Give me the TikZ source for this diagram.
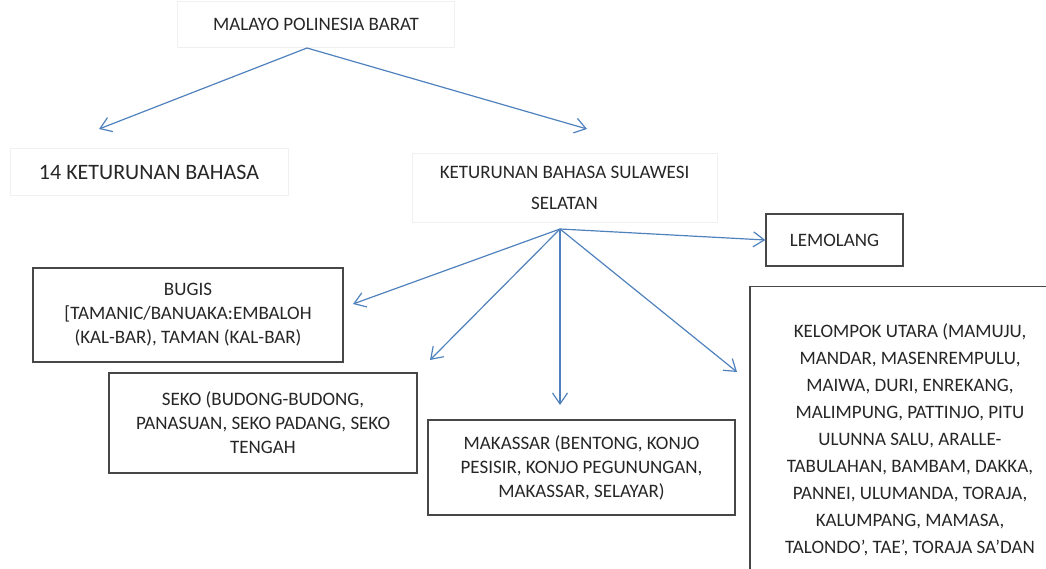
\documentclass[tikz,border=0pt]{standalone}
\usepackage{fontspec}
\setmainfont{Carlito}
\usetikzlibrary{arrows.meta}
\definecolor{linkblue}{HTML}{4F81BD}
\definecolor{framegray}{gray}{0.28}
\definecolor{faintgray}{gray}{0.94}

\begin{document}
\begin{tikzpicture}[x=1pt,y=-1pt,
  every node/.style={text=black!85,font=\fontsize{19}{24}\selectfont,align=center,inner sep=0pt},
  box/.style={draw=framegray,line width=1.3pt},
  faint/.style={draw=faintgray,line width=0.8pt},
  link/.style={-{Straight Barb[length=11pt,width=15pt]},draw=linkblue,line width=1.2pt}]
  \useasboundingbox (0,0) rectangle (1046,569);

  % 上位ノード
  \node[faint,minimum width=277pt,minimum height=46pt] (mpb) at (316,24) {MALAYO POLINESIA BARAT};
  \coordinate (mpbfoot) at (307,48);

  % 二つの子孫
  \node[faint,minimum width=278pt,minimum height=47pt] (kb14) at (149,172) {\fontsize{22}{26}\selectfont 14 KETURUNAN BAHASA};
  \node[faint,minimum width=305pt,minimum height=69pt] (ksul) at (564.5,187.5) {KETURUNAN BAHASA SULAWESI\\[7pt]SELATAN};
  \coordinate (tokb) at (99,129);
  \coordinate (toks) at (587,129);
  \coordinate (hub) at (560,229);

  % 下位の言語グループ
  \node[box,minimum width=137pt,minimum height=52pt] (lemo) at (834.5,240) {LEMOLANG};
  \node[box,minimum width=310pt,minimum height=94pt] (bugis) at (188,315) {BUGIS\\{}[TAMANIC/BANUAKA:EMBALOH\\(KAL-BAR), TAMAN (KAL-BAR)};
  \node[box,minimum width=308pt,minimum height=100pt] (seko) at (263,423) {SEKO (BUDONG-BUDONG,\\PANASUAN, SEKO PADANG, SEKO\\TENGAH};
  \node[box,minimum width=307pt,minimum height=95pt] (maks) at (581.5,467.5) {MAKASSAR (BENTONG, KONJO\\PESISIR, KONJO PEGUNUNGAN,\\MAKASSAR, SELAYAR)};
  \node[box,anchor=north,minimum width=320pt,inner ysep=37pt,font=\fontsize{19}{27}\selectfont] (utara) at (910,286)
    {KELOMPOK UTARA (MAMUJU,\\MANDAR, MASENREMPULU,\\MAIWA, DURI, ENREKANG,\\MALIMPUNG, PATTINJO, PITU\\ULUNNA SALU, ARALLE-\\TABULAHAN, BAMBAM, DAKKA,\\PANNEI, ULUMANDA, TORAJA,\\KALUMPANG, MAMASA,\\TALONDO’, TAE’, TORAJA SA’DAN};
  \coordinate (tobugis) at (353,304);
  \coordinate (toseko) at (430,360);
  \coordinate (tomaks) at (560,405);
  \coordinate (toutara) at (737,372);

  % 矢印
  \draw[link] (mpbfoot) -- (tokb);
  \draw[link] (mpbfoot) -- (toks);
  \draw[link] (hub) -- (tobugis);
  \draw[link] (hub) -- (toseko);
  \draw[link] (hub) -- (tomaks);
  \draw[link] (hub) -- (toutara);
  \draw[link] (hub) -- (lemo.west);
\end{tikzpicture}
\end{document}
